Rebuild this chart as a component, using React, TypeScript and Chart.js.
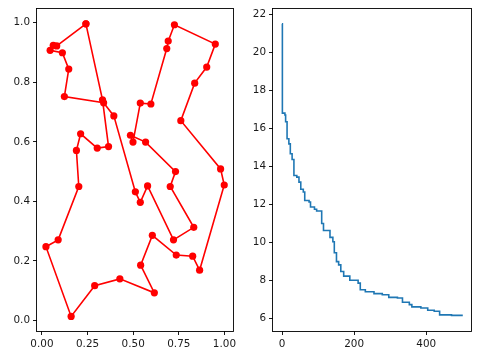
import React, { useEffect, useRef } from 'react';
import { Chart, registerables } from 'chart.js';

Chart.register(...registerables);

// Left panel: tour through cities (visiting order)
const tourX = [0.241, 0.081, 0.062, 0.045, 0.112, 0.147, 0.123, 0.338, 0.394, 0.512, 0.539, 0.579, 0.721, 0.832, 0.703, 0.732, 0.568, 0.485, 0.499, 0.539, 0.597, 0.684, 0.692, 0.726, 0.950, 0.903, 0.837, 0.761, 0.979, 0.999, 0.864, 0.826, 0.736, 0.605, 0.541, 0.616, 0.427, 0.289, 0.160, 0.022, 0.089, 0.202, 0.189, 0.212, 0.303, 0.365, 0.332];
const tourY = [0.996, 0.922, 0.924, 0.907, 0.899, 0.844, 0.752, 0.731, 0.687, 0.432, 0.397, 0.452, 0.271, 0.313, 0.450, 0.500, 0.599, 0.622, 0.599, 0.730, 0.727, 0.913, 0.938, 0.993, 0.928, 0.851, 0.797, 0.671, 0.509, 0.455, 0.169, 0.216, 0.220, 0.286, 0.186, 0.093, 0.140, 0.117, 0.014, 0.248, 0.271, 0.450, 0.571, 0.627, 0.579, 0.584, 0.741];
const leftXTicks = [0, 0.25, 0.5, 0.75, 1.0];
const leftYTicks = [0, 0.2, 0.4, 0.6, 0.8, 1.0];

// Right panel: best distance per iteration (change points)
const iterations = [0, 1, 8, 10, 14, 19, 23, 28, 33, 41, 47, 52, 59, 63, 75, 79, 90, 96, 110, 115, 133, 141, 145, 151, 157, 163, 171, 188, 211, 217, 231, 255, 278, 296, 320, 334, 353, 360, 385, 404, 422, 437, 470, 499];
const bestDistance = [21.5, 16.8, 16.7, 16.35, 15.45, 15.18, 14.66, 14.36, 13.52, 13.43, 13.17, 12.79, 12.65, 12.2, 12.12, 11.86, 11.74, 11.65, 10.99, 10.62, 10.26, 10.03, 9.45, 8.98, 8.81, 8.46, 8.22, 8.0, 7.85, 7.5, 7.4, 7.3, 7.24, 7.1, 7.07, 6.84, 6.72, 6.6, 6.54, 6.42, 6.37, 6.18, 6.15, 6.1];
const rightXTicks = [0, 200, 400];
const rightYTicks = [6, 8, 10, 12, 14, 16, 18, 20, 22];

const W = 478;
const H = 361;

const framePlugin = {
  id: 'frame',
  afterDraw(chart: any) {
    const { ctx, chartArea: a } = chart;
    ctx.save();
    ctx.strokeStyle = '#000';
    ctx.lineWidth = 0.9;
    const l = Math.round(a.left) - 0.5;
    const t = Math.round(a.top) - 0.5;
    const r = Math.round(a.right) + 0.5;
    const b = Math.round(a.bottom) + 0.5;
    ctx.strokeRect(l, t, r - l, b - t);
    ctx.restore();
  },
};

function axis(min: number, max: number, ticks: number[], fmt: (v: number) => string, size: number, isX: boolean) {
  return {
    type: 'linear',
    min,
    max,
    grid: { display: true, drawOnChartArea: false, drawTicks: true, tickLength: 4, tickColor: '#000', tickWidth: 0.9 },
    border: { display: false },
    ticks: {
      color: '#1a1a1a',
      font: { family: 'DejaVu Sans', size: 10.4 },
      padding: 3,
      maxRotation: 0,
      autoSkip: false,
      callback: (v: any) => fmt(Number(v)),
    },
    afterBuildTicks: (s: any) => {
      s.ticks = ticks.map((v) => ({ value: v }));
    },
    afterFit: (s: any) => {
      if (isX) s.height = size;
      else s.width = size;
    },
  };
}

export default function App() {
  const leftRef = useRef<HTMLCanvasElement>(null);
  const rightRef = useRef<HTMLCanvasElement>(null);

  useEffect(() => {
    const pts = tourX.map((x, i) => ({ x, y: tourY[i] }));
    pts.push({ x: tourX[0], y: tourY[0] });
    const left = new Chart(leftRef.current as HTMLCanvasElement, {
      type: 'scatter',
      data: {
        datasets: [
          {
            data: pts,
            showLine: true,
            borderColor: '#ff0000',
            backgroundColor: '#ff0000',
            borderWidth: 1.6,
            pointRadius: 3.6,
            pointBorderWidth: 0,
          } as any,
        ],
      },
      options: {
        animation: false,
        responsive: false,
        devicePixelRatio: 1,
        layout: { padding: { left: 0, top: 9, right: W - 233, bottom: 0 } },
        plugins: { legend: { display: false }, tooltip: { enabled: false } },
        scales: {
          x: axis(-0.027, 1.047, leftXTicks, (v) => v.toFixed(2), 30, true) as any,
          y: axis(-0.035, 1.045, leftYTicks, (v) => v.toFixed(1), 37, false) as any,
        },
      },
      plugins: [framePlugin],
    });

    const right = new Chart(rightRef.current as HTMLCanvasElement, {
      type: 'line',
      data: {
        datasets: [
          {
            data: iterations.map((x, i) => ({ x, y: bestDistance[i] })),
            borderColor: '#1f77b4',
            borderWidth: 1.6,
            pointRadius: 0,
            stepped: true,
            fill: false,
          } as any,
        ],
      },
      options: {
        animation: false,
        responsive: false,
        devicePixelRatio: 1,
        layout: { padding: { left: 237, top: 9, right: W - 471, bottom: 0 } },
        plugins: { legend: { display: false }, tooltip: { enabled: false } },
        scales: {
          x: axis(-25, 524, rightXTicks, (v) => String(v), 30, true) as any,
          y: axis(5.33, 22.27, rightYTicks, (v) => String(v), 36, false) as any,
        },
      },
      plugins: [framePlugin],
    });

    return () => {
      left.destroy();
      right.destroy();
    };
  }, []);

  const cs: React.CSSProperties = { position: 'absolute', left: 0, top: 0, width: W, height: H };
  return (
    <div style={{ position: 'fixed', left: 0, top: 0, width: W, height: H, background: '#fff' }}>
      <canvas ref={leftRef} width={W} height={H} style={cs} />
      <canvas ref={rightRef} width={W} height={H} style={cs} />
    </div>
  );
}
